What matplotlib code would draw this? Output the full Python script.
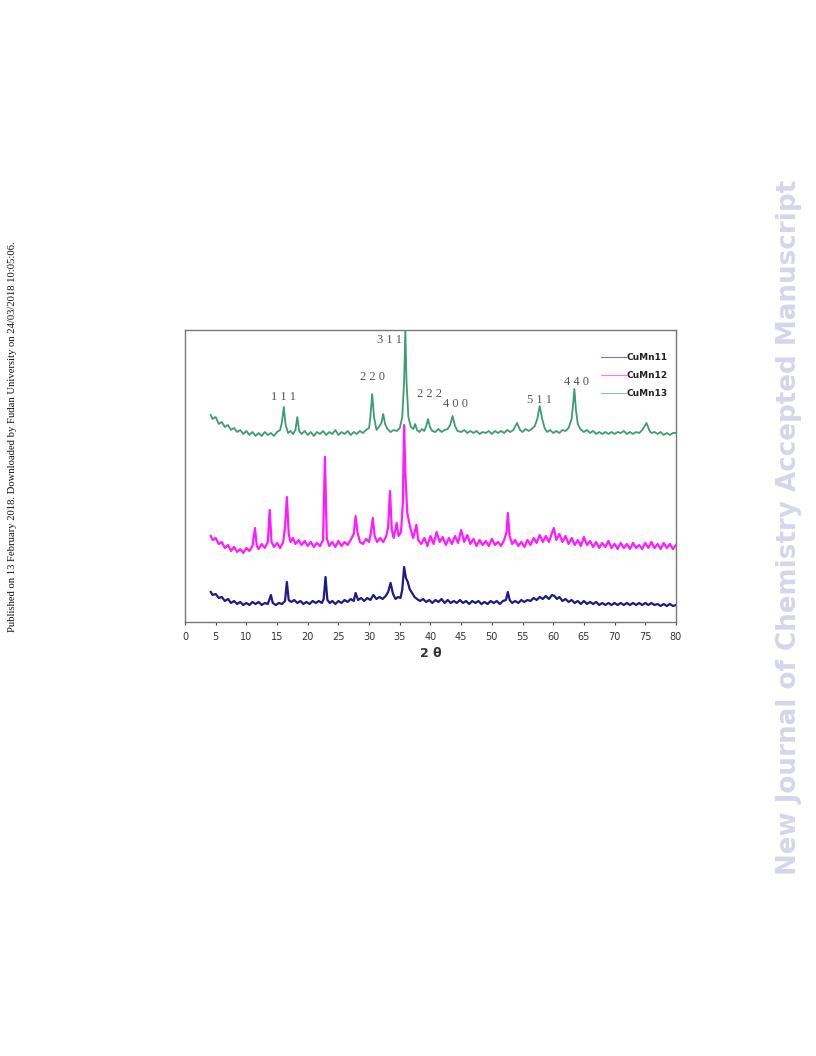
import matplotlib
matplotlib.use("Agg")
import matplotlib.pyplot as plt
from matplotlib.lines import Line2D

# intensity in arbitrary units (offset traces)
two_theta_13 = [4.2, 4.5, 5.0, 5.5, 6.0, 6.5, 7.0, 7.5, 8.0, 8.5, 9.0, 9.5, 10, 10.5, 11, 11.5, 12, 12.5, 13, 13.5,
                14, 14.5, 15, 15.5, 15.8, 16.1, 16.4, 16.8, 17.2, 17.6, 18.0, 18.3, 18.6, 19, 19.5, 20, 20.5, 21, 21.5,
                22, 22.5, 23, 23.5, 24, 24.5, 25, 25.5, 26, 26.5, 27, 27.5, 28, 28.5, 29, 29.5, 30, 30.2, 30.5, 30.8,
                31.2, 31.6, 32.0, 32.3, 32.6, 33, 33.5, 34, 34.5, 35, 35.4, 35.7, 35.9, 36.1, 36.4, 36.8, 37.2, 37.5,
                37.8, 38.2, 38.6, 39, 39.3, 39.6, 39.9, 40.3, 40.8, 41.3, 41.8, 42.3, 42.8, 43.2, 43.6, 44.0, 44.4, 45,
                45.5, 46, 46.5, 47, 47.5, 48, 48.5, 49, 49.5, 50, 50.5, 51, 51.5, 52, 52.5, 53, 53.5, 54.1, 54.6, 55,
                55.5, 56, 56.5, 57.0, 57.4, 57.8, 58.2, 58.6, 59, 59.5, 60, 60.5, 61, 61.5, 62, 62.5, 63.0, 63.2, 63.45,
                63.7, 64.0, 64.4, 65, 65.5, 66, 66.5, 67, 67.5, 68, 68.5, 69, 69.5, 70, 70.5, 71, 71.5, 72, 72.5, 73,
                73.5, 74, 74.5, 75.2, 75.7, 76, 76.5, 77, 77.5, 78, 78.5, 79, 79.5, 80]
cumn13 = [207, 203, 205, 198, 200, 195, 197, 192, 194, 190, 192, 188, 191, 187, 190, 186, 189, 186, 190, 187,
          189, 186, 190, 192, 200, 215, 197, 189, 191, 188, 192, 205, 191, 188, 191, 187, 190, 186, 190,
          188, 191, 187, 190, 188, 192, 187, 190, 188, 191, 187, 190, 188, 191, 189, 192, 194, 205, 228, 205,
          192, 195, 199, 208, 198, 193, 190, 192, 191, 194, 205, 240, 292, 240, 205, 195, 193, 198,
          192, 190, 193, 191, 196, 203, 195, 191, 190, 193, 190, 192, 193, 197, 206, 196, 191, 190,
          192, 189, 191, 189, 191, 188, 190, 189, 191, 188, 191, 189, 191, 189, 192, 190, 192, 199, 192, 190,
          193, 191, 193, 196, 203, 216, 203, 194, 190, 192, 189, 191, 189, 192, 191, 194, 203, 215, 233,
          212, 198, 193, 190, 192, 189, 191, 188, 190, 188, 190, 188, 190, 188, 190, 189, 191, 188, 190, 188,
          190, 189, 192, 199, 191, 189, 190, 188, 190, 187, 189, 187, 189, 189]

two_theta_12 = [4.2, 4.5, 5, 5.5, 6, 6.5, 7, 7.5, 8, 8.5, 9, 9.5, 10, 10.5, 11, 11.4, 11.7, 12, 12.5, 13, 13.5, 13.8,
                14.1, 14.5, 15, 15.5, 16, 16.3, 16.6, 16.9, 17.2, 17.6, 18, 18.5, 19, 19.5, 20, 20.5, 21, 21.5, 22,
                22.5, 22.8, 23.1, 23.5, 24, 24.5, 25, 25.5, 26, 26.5, 27, 27.5, 27.8, 28.1, 28.5, 29, 29.5, 30, 30.3,
                30.6, 30.9, 31.3, 31.8, 32.3, 32.8, 33.1, 33.4, 33.7, 34, 34.5, 34.8, 35.2, 35.5, 35.7, 35.9, 36.2,
                36.5, 36.8, 37.2, 37.7, 38, 38.5, 39, 39.5, 40, 40.5, 41, 41.5, 42, 42.5, 43, 43.5, 44, 44.5, 45,
                45.5, 46, 46.5, 47, 47.5, 48, 48.5, 49, 49.5, 50, 50.5, 51, 51.5, 52, 52.4, 52.6, 52.9, 53.3, 53.8,
                54.3, 54.8, 55.3, 55.8, 56.3, 56.8, 57.3, 57.8, 58.3, 58.8, 59.3, 59.8, 60.1, 60.5, 61, 61.5, 62,
                62.5, 63, 63.5, 64, 64.5, 65, 65.5, 66, 66.5, 67, 67.5, 68, 68.5, 69, 69.5, 70, 70.5, 71, 71.5, 72,
                72.5, 73, 73.5, 74, 74.5, 75, 75.5, 76, 76.5, 77, 77.5, 78, 78.5, 79, 79.5, 80]
cumn12 = [86, 82, 84, 78, 80, 74, 77, 71, 75, 70, 73, 69, 74, 71, 76, 94, 76, 73, 78, 74, 80, 112,
          80, 75, 79, 74, 80, 95, 125, 88, 80, 84, 78, 82, 77, 81, 76, 80, 75, 79, 76,
          82, 165, 84, 76, 80, 75, 81, 76, 80, 77, 82, 88, 106, 90, 80, 78, 83, 80, 90,
          104, 86, 80, 84, 80, 86, 95, 131, 92, 84, 99, 86, 90, 120, 197, 150, 110,
          100, 92, 84, 97, 82, 78, 84, 76, 86, 78, 90, 80, 85, 77, 84, 78, 86, 79, 92,
          80, 87, 78, 83, 76, 82, 77, 81, 76, 83, 77, 80, 76, 82, 90, 109, 86, 78, 82,
          76, 80, 75, 82, 77, 84, 79, 87, 80, 86, 80, 89, 94, 82, 88, 80, 86,
          78, 84, 77, 82, 76, 85, 77, 81, 75, 80, 74, 79, 75, 81, 74, 78, 73, 79, 74, 78,
          73, 79, 74, 77, 73, 79, 74, 80, 74, 78, 73, 79, 74, 78, 73, 77]

two_theta_11 = [4.2, 4.5, 5, 5.5, 6, 6.5, 7, 7.5, 8, 8.5, 9, 9.5, 10, 10.5, 11, 11.5, 12, 12.5, 13, 13.5, 14, 14.3,
                14.8, 15.3, 15.8, 16.3, 16.6, 16.9, 17.3, 17.8, 18.3, 18.8, 19.3, 19.8, 20.3, 20.8, 21.3, 21.8, 22.3,
                22.6, 22.9, 23.2, 23.6, 24, 24.5, 25, 25.5, 26, 26.5, 27, 27.5, 27.8, 28.2, 28.7, 29.2, 29.7, 30.2,
                30.7, 31.2, 31.7, 32.2, 32.7, 33.1, 33.5, 33.9, 34.3, 34.7, 35.1, 35.4, 35.7, 36.0, 36.3, 36.6, 37,
                37.4, 37.8, 38.3, 38.8, 39.3, 39.8, 40.3, 40.8, 41.3, 41.8, 42.3, 42.8, 43.3, 43.8, 44.3, 44.8, 45.3,
                45.8, 46.3, 46.8, 47.3, 47.8, 48.3, 48.8, 49.3, 49.8, 50.3, 50.8, 51.3, 51.8, 52.3, 52.6, 52.9, 53.3,
                53.8, 54.3, 54.8, 55.3, 55.8, 56.3, 56.8, 57.3, 57.8, 58.3, 58.8, 59.3, 59.8, 60.2, 60.6, 61, 61.5,
                62, 62.5, 63, 63.5, 64, 64.5, 65, 65.5, 66, 66.5, 67, 67.5, 68, 68.5, 69, 69.5, 70, 70.5, 71, 71.5,
                72, 72.5, 73, 73.5, 74, 74.5, 75, 75.5, 76, 76.5, 77, 77.5, 78, 78.5, 79, 79.5, 80]
cumn11 = [30, 27, 28, 24, 25, 21, 23, 19, 21, 18, 20, 17, 19, 17, 20, 18, 20, 17, 19, 18, 27, 19,
          17, 19, 18, 21, 40, 22, 20, 22, 19, 21, 18, 20, 18, 21, 19, 21, 19,
          23, 45, 22, 19, 21, 18, 21, 19, 22, 20, 23, 21, 29, 22, 24, 21, 24, 22,
          27, 23, 25, 23, 26, 30, 39, 28, 23, 25, 24, 32, 55, 44, 40, 33, 29,
          25, 23, 21, 23, 20, 22, 19, 22, 20, 23, 19, 22, 19, 21, 19, 22, 19,
          21, 18, 21, 19, 21, 18, 20, 18, 21, 19, 21, 18, 21, 22, 30, 22, 19,
          21, 19, 22, 20, 22, 21, 24, 22, 25, 23, 26, 23, 27, 26, 23, 25, 21,
          23, 20, 22, 19, 21, 18, 21, 18, 20, 18, 20, 17, 19, 17, 19, 17, 19, 17, 19, 17,
          19, 17, 19, 17, 19, 17, 19, 17, 19, 17, 18, 16, 18, 16, 18, 16, 17]

# hkl labels for the spinel reflections (CuMn13 trace)
hkl_labels = ["1 1 1", "2 2 0", "3 1 1", "2 2 2", "4 0 0", "5 1 1", "4 4 0"]
hkl_x = [16.0, 30.5, 33.3, 39.8, 44.0, 57.7, 63.8]
hkl_y = [225, 245, 282, 228, 218, 222, 240]

series_labels = ["CuMn11", "CuMn12", "CuMn13"]
colors = ["#1c1c82", "#ff1aff", "#3c9c72"]

fig = plt.figure(figsize=(8.16, 10.56), dpi=100)
ax = fig.add_axes([0.2267, 0.411, 0.6017, 0.2765])

ax.plot(two_theta_11, cumn11, color=colors[0], lw=1.6)
ax.plot(two_theta_12, cumn12, color=colors[1], lw=1.6)
ax.plot(two_theta_13, cumn13, color=colors[2], lw=1.3)

for lab, x, y in zip(hkl_labels, hkl_x, hkl_y):
    ax.text(x, y, lab, ha="center", va="center", fontsize=9,
            family="Liberation Serif", color="#555555")

ax.set_xlim(0, 80)
ax.set_ylim(0, 292)
ax.set_xticks(range(0, 81, 5))
ax.set_yticks([])
ax.tick_params(axis="x", labelsize=7, colors="#444444", length=2.5, width=0.8, pad=5)
for t in ax.get_xticklabels():
    t.set_color("#333333")
for s in ax.spines.values():
    s.set_color("#777777")
    s.set_linewidth(1.0)
ax.set_xlabel("2 θ", fontsize=9, fontweight="bold", color="#333333", labelpad=3)

handles = [Line2D([], [], color=c, lw=0.8, alpha=0.6) for c in colors]
leg = ax.legend(handles, series_labels, loc="upper right", frameon=False,
                prop={"size": 6.5, "weight": "bold"}, handlelength=2.8,
                handletextpad=0.1, labelspacing=1.0, bbox_to_anchor=(1.0, 0.95))
for t in leg.get_texts():
    t.set_color("#222222")

fig.text(0.9675, 0.501, "New Journal of Chemistry Accepted Manuscript", rotation=90,
         ha="center", va="center", fontsize=18.8, fontweight="bold", color="#d6d6ea")
fig.text(0.015, 0.586, "Published on 13 February 2018. Downloaded by Fudan University on 24/03/2018 10:05:06.",
         rotation=90, ha="center", va="center", fontsize=7.7, family="Liberation Serif", color="#111111")

fig.savefig("out.png", dpi=100)
